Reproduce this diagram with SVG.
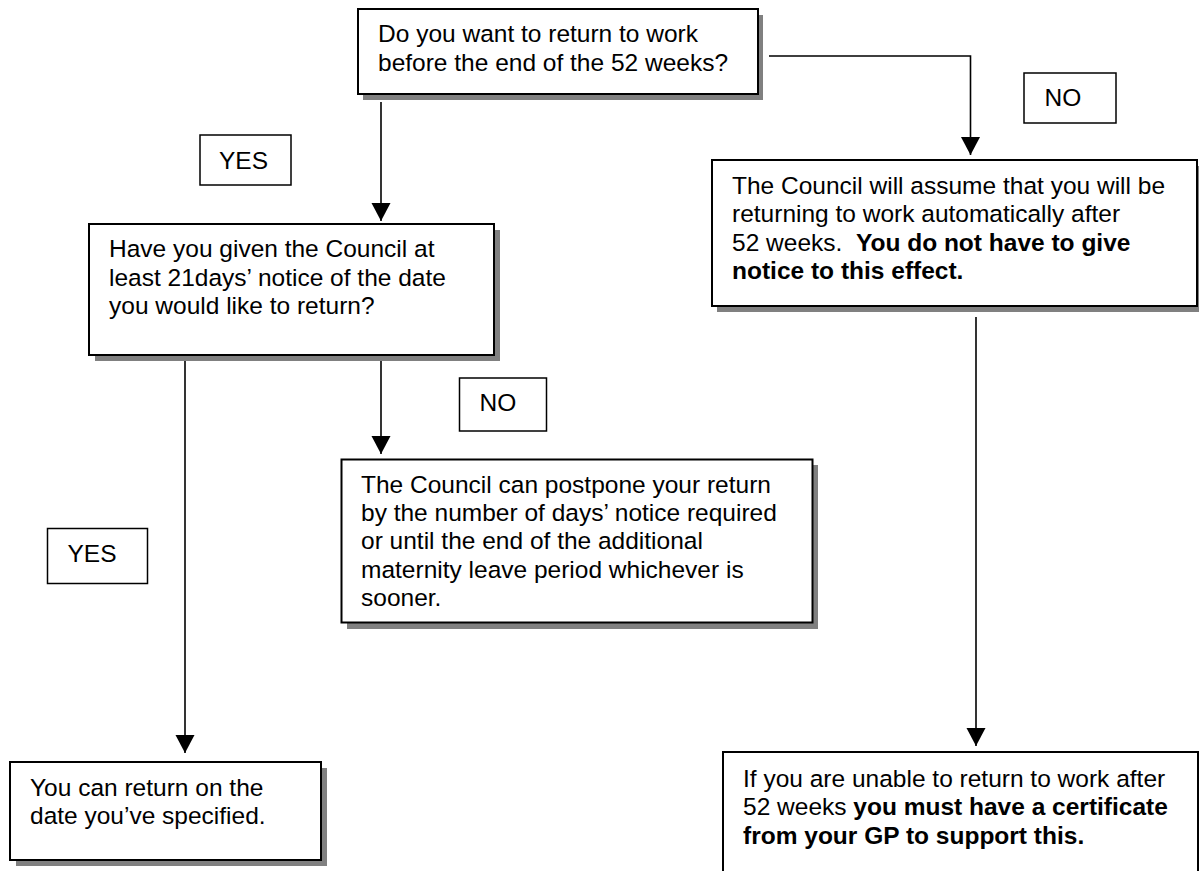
<svg xmlns="http://www.w3.org/2000/svg" width="1199" height="871" viewBox="0 0 1199 871">
<defs>
<style>
.box{fill:#fff;stroke:#000;stroke-width:2}
.shadow{fill:#808080}
.lbl{fill:#fff;stroke:#000;stroke-width:1.5}
.t{font-family:"Liberation Sans",Arial,sans-serif;font-size:24.5px;fill:#000}
.b{font-weight:bold}
.conn{fill:none;stroke:#000;stroke-width:1.6}
</style>
<marker id="arr" markerUnits="userSpaceOnUse" markerWidth="19" markerHeight="20" refX="18" refY="9.5" orient="auto" viewBox="0 0 19 20">
<path d="M0,0 L18,9.5 L0,19 z" fill="#000"/>
</marker>
</defs>
<rect width="1199" height="871" fill="#fff"/>

<g id="connectors">
<path class="conn" d="M381,102 L381,221" marker-end="url(#arr)"/>
<path class="conn" d="M769,56 L970.5,56 L970.5,155" marker-end="url(#arr)"/>
<path class="conn" d="M185,361 L185,753" marker-end="url(#arr)"/>
<path class="conn" d="M381,361 L381,454" marker-end="url(#arr)"/>
<path class="conn" d="M976,317 L976,746" marker-end="url(#arr)"/>
</g>

<g id="q1">
<rect class="shadow" x="363" y="15" width="400" height="85"/>
<rect class="box" x="358" y="9" width="400" height="85"/>
<text class="t" x="378" y="42">Do you want to return to work</text>
<text class="t" x="378" y="70.5">before the end of the 52 weeks?</text>
</g>

<g id="label-no-1">
<rect class="lbl" x="1024" y="73" width="92" height="50"/>
<text class="t" x="1044.5" y="106">NO</text>
</g>

<g id="label-yes-1">
<rect class="lbl" x="200" y="135" width="91" height="50"/>
<text class="t" x="219" y="169">YES</text>
</g>

<g id="q2">
<rect class="shadow" x="95" y="230" width="405" height="131"/>
<rect class="box" x="89" y="224" width="405" height="131"/>
<text class="t" x="109" y="257">Have you given the Council at</text>
<text class="t" x="109" y="285.5">least 21days’ notice of the date</text>
<text class="t" x="109" y="314">you would like to return?</text>
</g>

<g id="assume">
<rect class="shadow" x="717" y="166" width="490" height="146"/>
<rect class="box" x="712" y="160" width="485" height="146"/>
<text class="t" x="732" y="193.5">The Council will assume that you will be</text>
<text class="t" x="732" y="222">returning to work automatically after</text>
<text class="t" x="732" y="250.5">52 weeks.<tspan class="b" dx="13.6">You do not have to give</tspan></text>
<text class="t b" x="732" y="279">notice to this effect.</text>
</g>

<g id="label-no-2">
<rect class="lbl" x="459.5" y="378" width="87" height="53"/>
<text class="t" x="479.5" y="411">NO</text>
</g>

<g id="postpone">
<rect class="shadow" x="347" y="465" width="471" height="164"/>
<rect class="box" x="341.5" y="459.5" width="471" height="163"/>
<text class="t" x="361" y="492.5">The Council can postpone your return</text>
<text class="t" x="361" y="521">by the number of days’ notice required</text>
<text class="t" x="361" y="549">or until the end of the additional</text>
<text class="t" x="361" y="577.5">maternity leave period whichever is</text>
<text class="t" x="361" y="606">sooner.</text>
</g>

<g id="label-yes-2">
<rect class="lbl" x="47.5" y="528.5" width="100" height="55"/>
<text class="t" x="67.5" y="562">YES</text>
</g>

<g id="return-date">
<rect class="shadow" x="16" y="768" width="311" height="98"/>
<rect class="box" x="10" y="762" width="311" height="98"/>
<text class="t" x="30" y="796">You can return on the</text>
<text class="t" x="30" y="824">date you’ve specified.</text>
</g>

<g id="certificate">
<rect class="box" x="723" y="752" width="475" height="140"/>
<text class="t" x="743" y="787">If you are unable to return to work after</text>
<text class="t" x="743" y="815">52 weeks <tspan class="b">you must have a certificate</tspan></text>
<text class="t b" x="743" y="843.5">from your GP to support this.</text>
</g>
</svg>
